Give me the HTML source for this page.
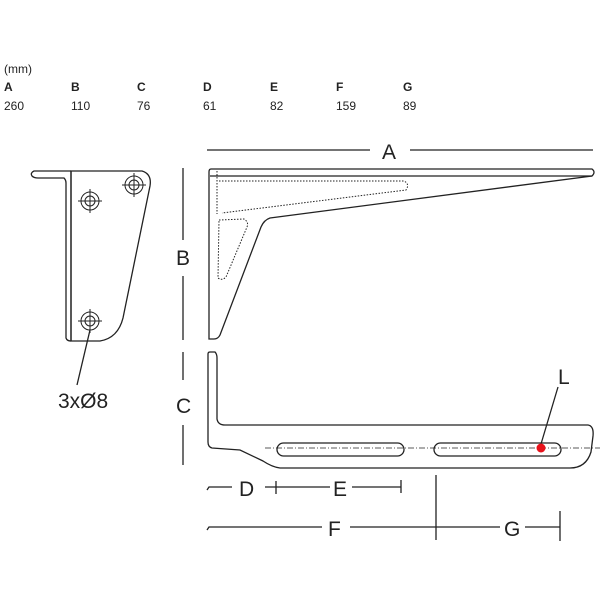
<!DOCTYPE html>
<html><head><style>
html,body{margin:0;padding:0;background:#fff;}
svg{display:block;}
</style></head><body>
<svg width="600" height="600" viewBox="0 0 600 600" xmlns="http://www.w3.org/2000/svg" font-family="Liberation Sans, sans-serif">
<rect width="600" height="600" fill="#fff"/>
<g font-size="12" fill="#222">
<text x="4" y="73">(mm)</text>
<g font-weight="bold">
<text x="4" y="91">A</text><text x="71" y="91">B</text><text x="137" y="91">C</text><text x="203" y="91">D</text><text x="270" y="91">E</text><text x="336" y="91">F</text><text x="403" y="91">G</text>
</g>
<text x="4" y="110">260</text><text x="71" y="110">110</text><text x="137" y="110">76</text><text x="203" y="110">61</text><text x="270" y="110">82</text><text x="336" y="110">159</text><text x="403" y="110">89</text>
</g>
<g fill="none" stroke="#222" stroke-width="1.3">
<!-- left view -->
<path d="M71,171 L34,171 Q30,173 32,176 Q34,178 38,178 L64,178 Q66,180 66,183 L66,338 Q67,341 71,341"/>
<path d="M71,171 L142,171 Q152,174 150,186 L123,318 Q118,338 100,341 L71,341 Z"/>
<line x1="71" y1="171" x2="71" y2="341"/>
<g stroke-width="1">
<circle cx="90" cy="201" r="9"/><circle cx="90" cy="201" r="5"/>
<circle cx="134" cy="185" r="9"/><circle cx="134" cy="185" r="5"/>
<circle cx="90" cy="321" r="9"/><circle cx="90" cy="321" r="5"/>
<path d="M78,201h24M90,189v24M122,185h24M134,173v24M78,321h24M90,309v24"/>
</g>
<line x1="90" y1="330" x2="77" y2="385"/>
<!-- vertical dims -->
<line x1="183" y1="168" x2="183" y2="240"/>
<line x1="183" y1="276" x2="183" y2="340"/>
<line x1="183" y1="352" x2="183" y2="380"/>
<line x1="183" y1="425" x2="183" y2="465"/>
<!-- A dim -->
<line x1="207" y1="150" x2="370" y2="150"/>
<line x1="410" y1="150" x2="593" y2="150"/>
<!-- top bracket -->
<path d="M211,169 L592,169 Q596,172 592,176 L270,218 Q264,220 261,227 L220,335 Q218,339 214,339 L209,339 L209,172 Q209,169 211,169 Z"/>
<path d="M210,176 L592,176"/>
<g stroke-dasharray="1.5,1.5" stroke-width="1">
<path d="M217,171 L217,214"/>
<path d="M219,181 L404,181 Q410,184 406,190 L222,213"/>
<path d="M219,220 L244,219 Q249,222 247,227 L226,277 Q222,281 218,278 Z"/>
</g>
<!-- bottom bracket -->
<path d="M210,352 L215,352 Q217,354 217,358 L217,419 Q218,425 225,425 L588,425 Q594,426 593,436 L591,452 Q586,468 570,468 L280,468 Q272,467 263,461 L240,450 L212,448 Q208,447 208,442 L208,354 Q208,352 210,352 Z"/>
<rect x="277" y="443" width="127" height="13" rx="6.5"/>
<rect x="434" y="443" width="127" height="13" rx="6.5"/>
<path d="M265,448 L600,448" stroke-width="0.8" stroke-dasharray="6,2,1,2"/>
<line x1="541" y1="444" x2="558" y2="387"/>
<!-- bottom dims -->
<path d="M207,490 L209,487 L232,487 M265,487 L330,487 M352,487 L401,487"/>
<path d="M276,481v13M401,480v13"/>
<path d="M207,530 L209,527 L322,527 M350,527 L500,527 M525,527 L560,527"/>
<path d="M436,475v65M560,511v30"/>
</g>
<circle cx="541" cy="448" r="4.5" fill="#e8121b"/>
<g fill="#222" font-size="21">
<text x="58" y="408">3xØ8</text>
<text x="176" y="265">B</text>
<text x="176" y="413">C</text>
<text x="382" y="159">A</text>
<text x="558" y="384">L</text>
<text x="239" y="496">D</text>
<text x="333" y="496">E</text>
<text x="328" y="536">F</text>
<text x="504" y="536">G</text>
</g>
</svg>
</body></html>
